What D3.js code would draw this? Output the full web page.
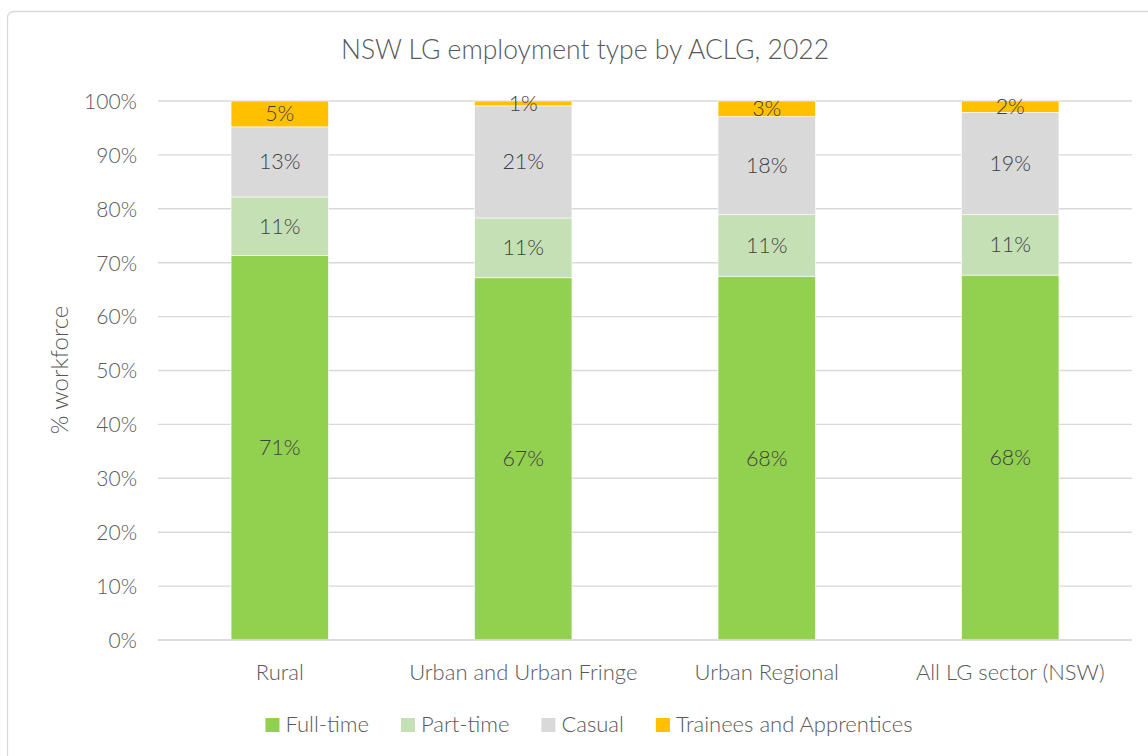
<!DOCTYPE html>
<html><head><meta charset="utf-8">
<script src="https://cdn.jsdelivr.net/npm/d3@7"></script>
<style>body{margin:0;background:#fff;}svg{display:block;font-family:Lato,"Open Sans",sans-serif;font-weight:300;}</style>
</head><body><svg id="c" width="1148" height="756"></svg>
<script>
const categories = ["Rural","Urban and Urban Fringe","Urban Regional","All LG sector (NSW)"];
const seriesNames = ["Full-time","Part-time","Casual","Trainees and Apprentices"];
const fullTime = [71.3, 67.2, 67.5, 67.7];
const partTime = [10.9, 11.1, 11.4, 11.2];
const casual = [13.0, 20.8, 18.2, 19.0];
const trainees = [4.8, 0.9, 2.9, 2.1];
const labels = [["71%","11%","13%","5%"],["67%","11%","21%","1%"],["68%","11%","18%","3%"],["68%","11%","19%","2%"]];
const yTicks = [0,10,20,30,40,50,60,70,80,90,100];
const colors = ["#92D050","#C5E0B4","#D9D9D9","#FFC000"];

const svg = d3.select("#c");
svg.append("rect").attr("x",7.5).attr("y",11.5).attr("width",1160).attr("height",760).attr("rx",6)
  .attr("fill","#fff").attr("stroke","#d9d9d9").attr("stroke-width",1.3);

const x = d3.scaleBand().domain(categories).range([158,1132]).paddingInner(0.6).paddingOuter(0.3);
const y = d3.scaleLinear().domain([0,100]).range([640,101]);

svg.append("g").selectAll("line").data(yTicks).join("line")
  .attr("x1",158).attr("x2",1132).attr("y1",d=>y(d)).attr("y2",d=>y(d))
  .attr("stroke","#d9d9d9").attr("stroke-width",1.4);

const yAxis = d3.axisLeft(y).tickValues(yTicks).tickFormat(d=>d+"%").tickSize(0).tickPadding(0);
const ya = svg.append("g").attr("transform","translate(137,0)").call(yAxis);
ya.select(".domain").remove();
ya.selectAll("text").attr("font-size",21).attr("fill","#595959").attr("font-family","Lato").attr("font-weight",300).attr("dy","0.35em");

const xAxis = d3.axisBottom(x).tickSize(0).tickPadding(0);
const xa = svg.append("g").attr("transform","translate(0,672)").call(xAxis);
xa.select(".domain").remove();
xa.selectAll("text").attr("font-size",22).attr("fill","#595959").attr("font-family","Lato").attr("font-weight",300).attr("dy","0.35em");

const data = categories.map((c,i)=>({cat:c,"Full-time":fullTime[i],"Part-time":partTime[i],"Casual":casual[i],"Trainees and Apprentices":trainees[i]}));
const stack = d3.stack().keys(seriesNames)(data);
const g = svg.append("g");
stack.forEach((s,si)=>{
  g.selectAll(null).data(s).join("rect")
    .attr("x",d=>x(d.data.cat)).attr("width",x.bandwidth())
    .attr("y",d=>y(d[1])).attr("height",d=>y(d[0])-y(d[1]))
    .attr("fill",colors[si]).attr("stroke","#fff").attr("stroke-width",0.6);
});
stack.forEach((s,si)=>{
  g.selectAll(null).data(s).join("text")
    .attr("x",d=>x(d.data.cat)+x.bandwidth()/2).attr("y",d=>(y(d[0])+y(d[1]))/2)
    .attr("dy","0.35em").attr("text-anchor","middle").attr("font-size",21.5)
    .attr("fill","#404040").text((d,ci)=>labels[ci][si]);
});
svg.append("line").attr("x1",158).attr("x2",1132).attr("y1",640).attr("y2",640).attr("stroke","#d9d9d9").attr("stroke-width",1.4);

svg.append("text").attr("x",585).attr("y",50).attr("dy","0.35em").attr("text-anchor","middle")
  .attr("font-size",26.5).attr("fill","#595959").text("NSW LG employment type by ACLG, 2022");

svg.append("text").attr("transform","translate(60,370) rotate(-90)").attr("dy","0.35em").attr("text-anchor","middle")
  .attr("font-size",24).attr("fill","#595959").text("% workforce");

const leg = svg.append("g");
const items = seriesNames.map((n,i)=>{
  const t = leg.append("text").attr("font-size",22).attr("fill","#595959").attr("dy","0.35em").attr("y",724).text(n);
  return {t, w:t.node().getComputedTextLength(), i};
});
const sq=14, gapSq=6, gapItem=32;
let total = items.reduce((a,o)=>a+sq+gapSq+o.w,0)+gapItem*(items.length-1);
let cx = 589 - total/2;
items.forEach(o=>{
  leg.append("rect").attr("x",cx).attr("y",725-sq/2).attr("width",sq).attr("height",sq).attr("fill",colors[o.i]);
  o.t.attr("x",cx+sq+gapSq);
  cx += sq+gapSq+o.w+gapItem;
});
</script></body></html>
